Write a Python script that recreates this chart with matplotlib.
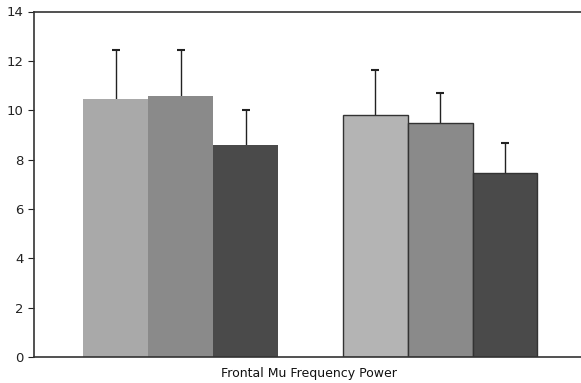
import matplotlib
matplotlib.use('Agg')
import matplotlib.pyplot as plt
import numpy as np

groups = ['group 1', 'group 2']
cond_a = [10.47, 9.81]
cond_b = [10.56, 9.47]
cond_c = [8.60, 7.45]
err_a = [1.95, 1.81]
err_b = [1.86, 1.24]
err_c = [1.42, 1.22]

colors = ['#a9a9a9', '#8a8a8a', '#4a4a4a']
colors2 = ['#b4b4b4', '#8a8a8a', '#4a4a4a']

fig = plt.figure(figsize=(5.81, 3.83), dpi=100)
ax = fig.add_axes([34/581, 26/383, 1 - 34/581 + 0.01, 345.5/383])

x = np.arange(len(groups))
w = 0.25
for k, (vals, errs) in enumerate(zip([cond_a, cond_b, cond_c], [err_a, err_b, err_c])):
    pos = x + (k - 1)*w
    for i in range(len(groups)):
        if i == 0:
            ax.bar(pos[i], vals[i], w, color=colors[k], edgecolor='none', zorder=2)
        else:
            ax.bar(pos[i], vals[i], w, color=colors2[k], edgecolor='#333333', linewidth=1, zorder=2)
    eb = ax.errorbar(pos, vals, yerr=[np.zeros(len(errs)), errs], fmt='none', ecolor='#222222',
                     elinewidth=1, capsize=3, capthick=1.5, zorder=1)
    # only keep the upper cap
    eb[1][0].set_visible(False)

ax.set_xlim(-0.565, 1.565)
ax.set_ylim(0, 14)
ax.set_yticks(range(0, 15, 2))
ax.set_xticks([])
ax.spines['right'].set_visible(False)
for s in ['left', 'top', 'bottom']:
    ax.spines[s].set_color('#333333')
    ax.spines[s].set_linewidth(1.2)
ax.tick_params(axis='y', labelsize=9.5, length=4, colors='#222222')
ax.set_xlabel('Frontal Mu Frequency Power', fontsize=9, labelpad=6, color='#111111')
ax.xaxis.set_label_coords(272/546, -0.03)

plt.savefig('out.png', dpi=100)
